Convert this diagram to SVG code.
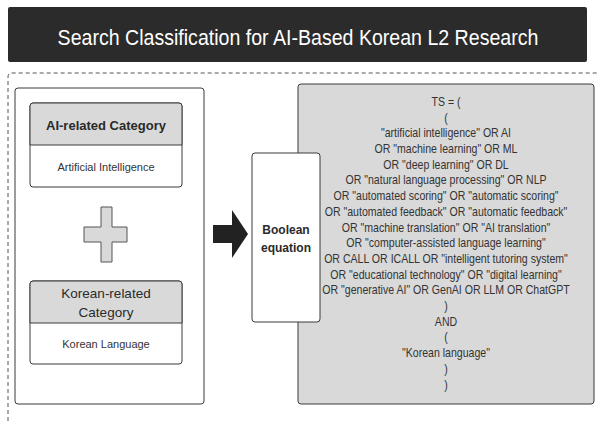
<svg xmlns="http://www.w3.org/2000/svg" width="597" height="421" viewBox="0 0 597 421">
<style>
.hdr{fill:#d9d9d9;stroke:#3a3a3a;stroke-width:1}
.box{fill:#ffffff;stroke:#3a3a3a;stroke-width:1}
.t{font-family:"Liberation Sans",Arial,sans-serif;fill:#2a2a2a;text-anchor:middle}
.eq{font-family:"Liberation Sans",Arial,sans-serif;font-size:12.5px;fill:#333;text-anchor:middle}
</style>
<rect width="597" height="421" fill="#ffffff"/>
<g id="title">
<rect x="8" y="7" width="579" height="55" rx="2" fill="#2b2b2b"/>
<text class="t" transform="translate(298,45) scale(0.89,1)" x="0" y="0" style="font-size:22px;fill:#ffffff">Search Classification for AI-Based Korean L2 Research</text>
</g>
<g id="container">
<path d="M8,421 V77 Q8,73 12,73 H597" fill="none" stroke="#555" stroke-width="1" stroke-dasharray="4,3"/>
</g>
<g id="left-panel">
<rect x="15" y="88" width="189" height="316" rx="3" class="box"/>
</g>
<g id="ai-category">
<rect x="30" y="103" width="152" height="84" rx="3" class="box"/>
<path d="M30,145 V106 Q30,103 33,103 H179 Q182,103 182,106 V145 Z" class="hdr"/>
<text class="t" x="106" y="129.5" style="font-size:13px;font-weight:bold">AI-related Category</text>
<text class="t" x="106" y="170.5" style="font-size:11px;fill:#333">Artificial Intelligence</text>
</g>
<g id="plus">
<path d="M101,207 H112 V227 H127 V242 H112 V262 H101 V242 H84 V227 H101 Z" fill="#d9d9d9" stroke="#555" stroke-width="1"/>
</g>
<g id="korean-category">
<rect x="30" y="281" width="152" height="83" rx="3" class="box"/>
<path d="M30,323 V284 Q30,281 33,281 H179 Q182,281 182,284 V323 Z" class="hdr"/>
<text class="t" x="106" y="298" style="font-size:13.5px">Korean-related</text>
<text class="t" x="106" y="317" style="font-size:13.5px">Category</text>
<text class="t" x="106" y="348" style="font-size:11px;fill:#333">Korean Language</text>
</g>
<g id="equation">
<rect x="298" y="84" width="296" height="320" rx="3" class="hdr"/>
<g transform="translate(446,0) scale(0.845,1)">
<text class="eq" x="0" y="106">TS = (</text>
<text class="eq" x="0" y="121.7">(</text>
<text class="eq" x="0" y="137.4">"artificial intelligence" OR AI</text>
<text class="eq" x="0" y="153.1">OR "machine learning" OR ML</text>
<text class="eq" x="0" y="168.8">OR "deep learning" OR DL</text>
<text class="eq" x="0" y="184.5">OR "natural language processing" OR NLP</text>
<text class="eq" x="0" y="200.2">OR "automated scoring" OR "automatic scoring"</text>
<text class="eq" x="0" y="215.9">OR "automated feedback" OR "automatic feedback"</text>
<text class="eq" x="0" y="231.6">OR "machine translation" OR "AI translation"</text>
<text class="eq" x="0" y="247.3">OR "computer-assisted language learning"</text>
<text class="eq" x="0" y="263">OR CALL OR ICALL OR "intelligent tutoring system"</text>
<text class="eq" x="0" y="278.7">OR "educational technology" OR "digital learning"</text>
<text class="eq" x="0" y="294.4">OR "generative AI" OR GenAI OR LLM OR ChatGPT</text>
<text class="eq" x="0" y="310.1">)</text>
<text class="eq" x="0" y="325.8">AND</text>
<text class="eq" x="0" y="341.5">(</text>
<text class="eq" x="0" y="357.2">"Korean language"</text>
<text class="eq" x="0" y="372.9">)</text>
<text class="eq" x="0" y="388.6">)</text>
</g>
</g>
<g id="connectors">
<path d="M213,225 H232 V210 L248,234 L232,258 V243 H213 Z" fill="#222"/>
</g>
<g id="boolean">
<rect x="252" y="153" width="68" height="169" rx="3" class="box"/>
<text class="t" x="286" y="234" style="font-size:12px;font-weight:bold">Boolean</text>
<text class="t" x="286" y="252" style="font-size:12px;font-weight:bold">equation</text>
</g>
</svg>
